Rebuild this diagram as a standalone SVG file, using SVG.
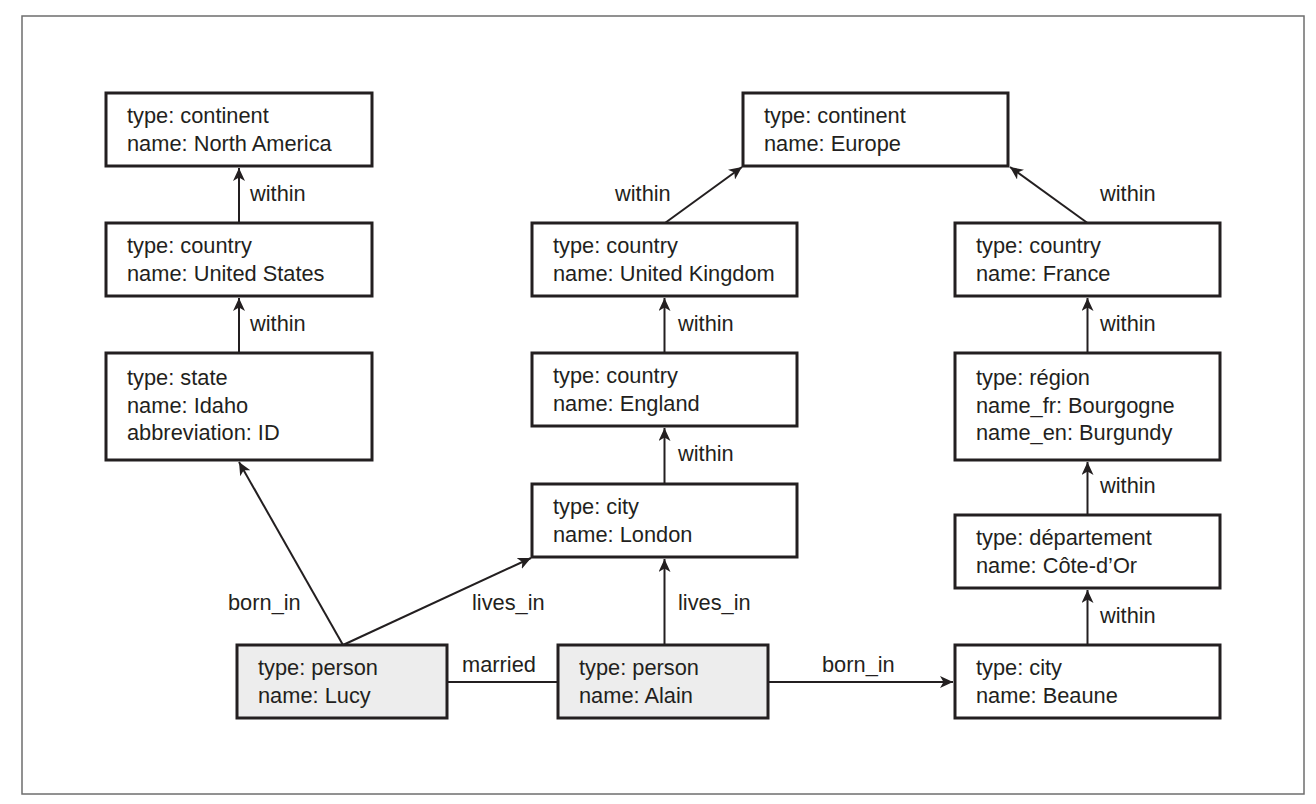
<svg xmlns="http://www.w3.org/2000/svg" width="1316" height="804" viewBox="0 0 1316 804">
<style>
.frame{fill:#fff;stroke:#6e6e6e;stroke-width:1.5}
.box{fill:#fff;stroke:#231f20;stroke-width:3}
.person{fill:#ededed;stroke:#231f20;stroke-width:3}
.t{font-family:"Liberation Sans",Arial,sans-serif;font-size:21.8px;fill:#231f20}
.e{fill:none;stroke:#231f20;stroke-width:2}
.a{marker-end:url(#arr)}
</style>
<defs>
<marker id="arr" markerUnits="userSpaceOnUse" markerWidth="14" markerHeight="12" refX="13" refY="6" orient="auto">
<path d="M0,0 L13,6 L0,12 L3.5,6 z" fill="#231f20"/>
</marker>
</defs>
<rect width="1316" height="804" fill="#fff"/>
<rect class="frame" x="22" y="16" width="1282" height="778"/>

<g id="connectors">
<path class="e a" d="M239,223 L239,168"/>
<path class="e a" d="M239,353 L239,298"/>
<path class="e a" d="M343,645 L239,462"/>
<path class="e a" d="M343,645 L531,558"/>
<path class="e a" d="M664.5,645 L664.5,559"/>
<path class="e a" d="M664.5,484 L664.5,428"/>
<path class="e a" d="M664.5,353 L664.5,298"/>
<path class="e a" d="M665,223 L742,167"/>
<path class="e a" d="M1087.5,223 L1010,167"/>
<path class="e a" d="M1087.5,353 L1087.5,298"/>
<path class="e a" d="M1087.5,515 L1087.5,462"/>
<path class="e a" d="M1087.5,645 L1087.5,590"/>
<path class="e" d="M447,682 L558,682"/>
<path class="e a" d="M768,682 L953,682"/>
<text class="t" x="250" y="201">within</text>
<text class="t" x="250" y="331">within</text>
<text class="t" x="228" y="610">born_in</text>
<text class="t" x="472" y="610">lives_in</text>
<text class="t" x="678" y="610">lives_in</text>
<text class="t" x="462" y="672">married</text>
<text class="t" x="822" y="672">born_in</text>
<text class="t" x="615" y="201">within</text>
<text class="t" x="1100" y="201">within</text>
<text class="t" x="678" y="331">within</text>
<text class="t" x="678" y="461">within</text>
<text class="t" x="1100" y="331">within</text>
<text class="t" x="1100" y="493">within</text>
<text class="t" x="1100" y="623">within</text>
</g>

<g id="north-america">
<rect class="box" x="106" y="93" width="266" height="73"/>
<text class="t" x="127" y="123">type: continent</text>
<text class="t" x="127" y="150.5">name: North America</text>
</g>
<g id="united-states">
<rect class="box" x="106" y="223" width="266" height="73"/>
<text class="t" x="127" y="253">type: country</text>
<text class="t" x="127" y="280.5">name: United States</text>
</g>
<g id="idaho">
<rect class="box" x="106" y="353" width="266" height="107"/>
<text class="t" x="127" y="385">type: state</text>
<text class="t" x="127" y="412.5">name: Idaho</text>
<text class="t" x="127" y="440">abbreviation: ID</text>
</g>
<g id="europe">
<rect class="box" x="743" y="93" width="265" height="73"/>
<text class="t" x="764" y="123">type: continent</text>
<text class="t" x="764" y="150.5">name: Europe</text>
</g>
<g id="united-kingdom">
<rect class="box" x="532" y="223" width="265" height="73"/>
<text class="t" x="553" y="253">type: country</text>
<text class="t" x="553" y="280.5">name: United Kingdom</text>
</g>
<g id="england">
<rect class="box" x="532" y="353" width="265" height="73"/>
<text class="t" x="553" y="383">type: country</text>
<text class="t" x="553" y="410.5">name: England</text>
</g>
<g id="london">
<rect class="box" x="532" y="484" width="265" height="73"/>
<text class="t" x="553" y="514">type: city</text>
<text class="t" x="553" y="541.5">name: London</text>
</g>
<g id="france">
<rect class="box" x="955" y="223" width="265" height="73"/>
<text class="t" x="976" y="253">type: country</text>
<text class="t" x="976" y="280.5">name: France</text>
</g>
<g id="bourgogne">
<rect class="box" x="955" y="353" width="265" height="107"/>
<text class="t" x="976" y="385">type: région</text>
<text class="t" x="976" y="412.5">name_fr: Bourgogne</text>
<text class="t" x="976" y="440">name_en: Burgundy</text>
</g>
<g id="cote-dor">
<rect class="box" x="955" y="515" width="265" height="73"/>
<text class="t" x="976" y="545">type: département</text>
<text class="t" x="976" y="572.5">name: Côte-d’Or</text>
</g>
<g id="beaune">
<rect class="box" x="955" y="645" width="265" height="73"/>
<text class="t" x="976" y="675">type: city</text>
<text class="t" x="976" y="702.5">name: Beaune</text>
</g>
<g id="lucy">
<rect class="person" x="237" y="645" width="210" height="73"/>
<text class="t" x="258" y="675">type: person</text>
<text class="t" x="258" y="702.5">name: Lucy</text>
</g>
<g id="alain">
<rect class="person" x="558" y="645" width="210" height="73"/>
<text class="t" x="579" y="675">type: person</text>
<text class="t" x="579" y="702.5">name: Alain</text>
</g>
</svg>
